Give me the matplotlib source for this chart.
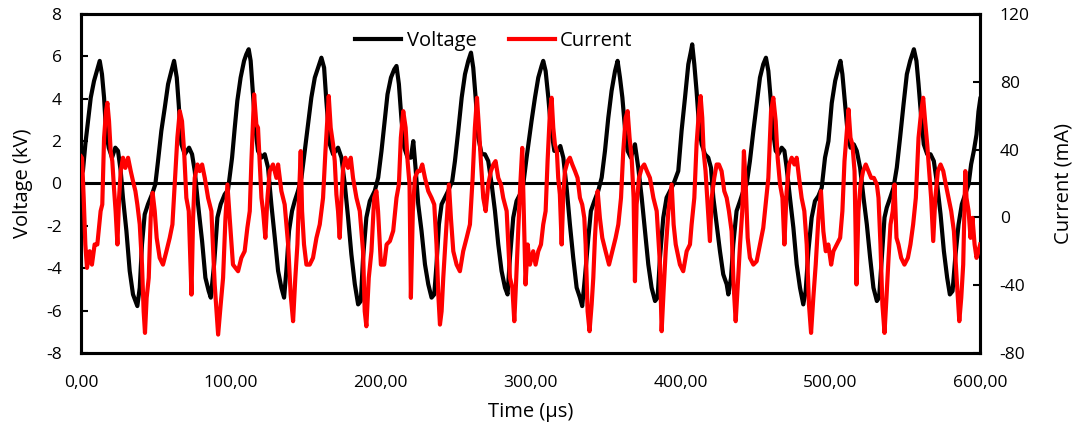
import numpy as np
import matplotlib
matplotlib.use("Agg")
from matplotlib import pyplot as plt

# Discharge waveforms: voltage (kV) and current (mA) vs time (µs)
volt_t = [0, 1.3, 2.9, 4.7, 6.5, 8.7, 10.9, 12.5, 14.0, 15.4, 16.7, 18.5, 20.7, 22.9, 24.7, 26.5,
          28.0, 30.3, 32.5, 34.7, 37.6, 39.2, 40.7, 42.5, 44.7, 47.4, 49.6, 51.4, 53.6, 55.9, 58.1,
          60.3, 62.1, 63.9, 65.2, 67.0, 69.2, 72.1, 74.1, 75.9, 78.1, 80.8, 83.0, 85.2, 86.6, 88.8,
          91.0, 93.2, 95.9, 98.1, 100.8, 102.6, 104.3, 106.5, 108.8, 110.3, 111.9, 113.2, 114.6,
          116.3, 118.1, 120.4, 122.6, 124.8, 127.0, 129.3, 131.5, 133.7, 135.5, 137.0, 138.8, 140.8,
          142.6, 144.8, 147.1, 149.3, 151.5, 153.7, 156.0, 158.2, 160.4, 162.2, 163.7, 166.0, 168.2,
          171.5, 173.8, 176.0, 178.2, 180.4, 182.7, 184.9, 186.7, 188.2, 190.4, 192.7, 196.0, 198.3,
          200.5, 202.8, 204.5, 206.8, 209.0, 210.5, 212.1, 213.9, 215.7, 217.9, 220.1, 221.7, 223.2,
          225.0, 227.2, 229.5, 231.7, 233.9, 235.7, 237.2, 238.8, 240.6, 242.8, 245.0, 247.7, 249.5,
          251.7, 254.0, 256.2, 258.4, 260.2, 261.7, 263.3, 265.1, 267.3, 269.5, 271.7, 274.0, 276.2,
          278.4, 280.6, 282.9, 284.6, 286.2, 288.4, 290.6, 292.9, 295.1, 297.3, 300.6, 302.9, 305.1,
          307.3, 308.4, 310.0, 311.8, 313.5, 315.8, 318.0, 319.8, 321.8, 324.0, 326.2, 328.4, 330.7,
          332.9, 334.4, 336.2, 338.5, 340.2, 342.5, 345.1, 347.4, 349.6, 351.8, 354.0, 356.3, 358.0,
          359.6, 361.2, 362.9, 364.7, 366.9, 369.6, 371.8, 374.1, 376.3, 378.5, 380.7, 383.0, 384.7,
          386.3, 388.5, 390.7, 393.0, 395.2, 398.5, 400.7, 403.0, 405.2, 407.0, 407.8, 409.2, 410.7,
          412.3, 414.1, 416.3, 418.5, 420.3, 421.9, 424.1, 426.3, 428.5, 430.8, 431.9, 433.7, 435.2,
          437.4, 439.7, 441.9, 444.1, 446.3, 448.6, 450.8, 453.0, 455.2, 457.0, 458.6, 459.9, 461.7,
          463.5, 465.3, 467.5, 469.3, 470.8, 473.0, 475.3, 477.5, 479.7, 481.9, 483.5, 485.3, 487.5,
          489.7, 492.0, 494.2, 496.4, 498.7, 500.9, 503.2, 505.4, 506.7, 508.0, 509.8, 511.6, 513.4,
          515.6, 517.6, 519.8, 522.1, 524.3, 526.5, 528.7, 531.0, 532.5, 534.3, 536.1, 537.6, 539.9,
          542.1, 544.3, 546.5, 548.8, 551.0, 553.2, 555.7, 557.4, 558.8, 560.6, 562.3, 564.6, 566.8,
          569.0, 571.2, 573.5, 575.7, 577.9, 579.7, 581.5, 583.3, 585.5, 587.7, 589.9, 592.2, 593.9,
          595.7, 597.5, 598.8, 600.0]
volt_kv = [0.4, 0.6, 1.85, 2.95, 4.05, 4.84, 5.39, 5.79, 5.16, 4.05, 2.48, 1.69, 1.22, 1.69, 1.54, 0.59,
           -0.67, -2.24, -4.13, -5.24, -5.79, -4.92, -2.87, -1.46, -0.98, -0.51, -0.04, 1.06, 2.48, 3.58, 4.69,
           5.31, 5.79, 5.0, 3.74, 1.85, 1.38, 1.69, 1.38, 0.59, -0.98, -2.72, -4.45, -5.08, -5.39, -3.82,
           -1.61, -0.98, -0.51, -0.3, 1.22, 2.64, 3.9, 5.0, 5.79, 6.1, 6.34, 5.79, 4.37,
           2.64, 1.54, 1.22, 1.38, 0.75, -0.98, -2.56, -4.13, -4.92, -5.39, -4.13, -2.24, -1.3,
           -0.83, -0.35, 0.28, 1.54, 2.8, 4.06, 5.0, 5.47, 5.94, 5.47, 3.9, 1.85, 1.38,
           1.69, 1.22, -0.04, -1.61, -3.35, -4.76, -5.71, -5.55, -3.5, -1.61, -0.83, -0.35, 0.28,
           1.54, 3.1, 4.21, 5.0, 5.39, 5.55, 4.69, 2.95, 1.69, 1.22, 1.22, 2.0, 0.75,
           -0.98, -2.24, -3.82, -4.76, -5.39, -5.24, -3.82, -1.93, -0.98, -0.67, -0.35, 0.12, 1.06,
           2.48, 4.06, 5.16, 5.79, 6.18, 5.47, 4.06, 2.17, 1.38, 1.38, 1.06, -0.04, -1.3,
           -2.87, -4.13, -4.92, -5.24, -3.5, -1.61, -0.83, -0.51, -0.04, 1.22, 2.95, 4.06, 5.0,
           5.55, 5.79, 5.31, 4.06, 2.64, 1.54, 1.54, 1.77, 1.22, -0.2, -1.93, -3.5, -4.92,
           -5.39, -5.79, -4.45, -2.56, -1.3, -0.83, -0.35, 0.28, 1.54, 3.1, 4.37, 5.31, 5.79,
           5.0, 4.06, 2.64, 1.54, 1.22, 1.85, 0.75, -0.67, -2.24, -3.82, -4.92, -5.55, -5.39,
           -3.5, -1.61, -0.67, -0.35, -0.04, 0.59, 2.48, 4.06, 5.63, 6.26, 6.57, 5.63, 4.37,
           2.8, 1.85, 1.38, 1.22, 0.75, -0.67, -1.93, -3.19, -4.29, -4.76, -5.24, -4.45, -2.87,
           -1.3, -0.83, -0.35, -0.04, 1.06, 2.48, 3.74, 5.0, 5.63, 5.94, 5.31, 4.21, 2.48,
           1.54, 1.38, 1.69, 1.54, 0.75, -0.67, -2.09, -3.82, -4.92, -5.71, -5.08, -3.19, -1.61,
           -0.83, -0.59, -0.2, 1.22, 2.0, 3.8, 4.85, 5.47, 5.79, 5.16, 3.74, 2.32, 1.69,
           1.85, 1.54, 0.75, -0.67, -1.93, -3.5, -4.92, -5.55, -5.39, -3.5, -1.61, -1.14, -0.67,
           -0.2, 0.75, 2.17, 3.74, 5.16, 5.79, 6.34, 5.79, 4.69, 3.1, 1.85, 1.38, 1.38,
           1.06, -0.04, -1.46, -3.19, -4.45, -5.24, -5.08, -3.5, -1.93, -0.98, -0.51, -0.04, 0.91,
           1.54, 2.32, 3.4, 4.0]

curr_t = [0, 0.7, 1.8, 2.9, 4.0, 5.8, 7.3, 9.1, 10.9, 12.0, 13.1, 14.2, 15.4, 16.7, 17.6, 18.7, 19.8,
          20.9, 22.0, 23.1, 24.3, 25.4, 26.5, 28.0, 29.6, 31.4, 33.2, 34.7, 36.3, 37.6, 39.2, 40.7,
          41.8, 42.7, 43.8, 45.2, 46.5, 47.8, 49.2, 50.5, 52.5, 54.7, 57.0, 59.2, 61.0, 62.5, 64.3,
          65.9, 67.4, 68.8, 70.3, 71.9, 73.7, 74.8, 75.9, 77.7, 79.2, 80.8, 82.6, 84.8, 87.0, 89.2,
          91.5, 93.2, 94.8, 96.4, 97.7, 99.2, 101.4, 104.8, 107.0, 109.2, 111.0, 112.6, 113.7, 115.5,
          117.0, 118.1, 119.2, 120.4, 121.5, 123.0, 124.4, 125.9, 128.1, 130.4, 131.5, 133.7, 135.9,
          138.2, 139.9, 141.5, 143.0, 144.4, 145.5, 146.6, 147.5, 148.8, 150.4, 152.6, 154.8, 157.1,
          159.3, 161.5, 163.1, 165.3, 166.6, 168.2, 169.3, 170.4, 171.5, 172.6, 173.8, 174.9, 176.4,
          178.2, 180.0, 181.5, 183.8, 186.0, 188.2, 189.3, 190.4, 192.0, 193.8, 195.6, 197.1, 198.2,
          200.1, 202.3, 203.9, 206.1, 208.3, 210.5, 212.1, 213.4, 215.0, 216.6, 217.9, 219.2, 220.1,
          221.4, 222.8, 224.6, 226.1, 227.7, 229.5, 231.7, 233.9, 235.7, 237.2, 238.4, 239.5, 240.6,
          241.7, 242.8, 243.9, 245.5, 246.8, 248.4, 250.6, 252.8, 255.0, 257.3, 259.5, 261.3, 262.8,
          264.2, 265.5, 266.8, 268.4, 270.0, 271.7, 273.5, 275.1, 276.6, 278.4, 280.2, 281.7, 284.0,
          286.2, 287.8, 289.1, 290.4, 291.8, 293.1, 294.4, 295.5, 296.6, 298.0, 299.5, 301.7, 303.3,
          305.1, 306.9, 308.4, 310.0, 311.3, 312.9, 314.0, 315.1, 316.2, 317.5, 318.4, 319.5, 320.7,
          321.8, 322.9, 324.7, 326.2, 327.8, 329.6, 331.3, 332.9, 334.4, 335.8, 336.7, 338.0, 339.3,
          340.7, 341.8, 342.9, 344.7, 346.2, 347.8, 350.0, 352.3, 354.5, 356.7, 358.5, 360.3, 361.8,
          363.4, 364.7, 366.0, 367.4, 368.7, 369.6, 370.7, 372.3, 374.1, 375.8, 377.6, 379.6, 381.9,
          384.1, 386.3, 387.4, 388.7, 390.1, 391.9, 394.1, 395.4, 396.8, 399.6, 401.8, 404.1, 406.3,
          407.4, 409.2, 410.7, 412.3, 413.4, 414.5, 415.4, 416.7, 418.1, 419.6, 420.8, 422.5, 424.1,
          425.6, 427.4, 429.2, 430.8, 432.3, 434.1, 435.4, 436.8, 438.1, 439.7, 441.2, 442.3, 443.5,
          444.8, 446.3, 448.6, 450.8, 453.0, 455.2, 456.8, 458.6, 460.4, 461.9, 463.5, 464.8, 466.4,
          468.0, 469.3, 470.8, 472.4, 474.2, 476.0, 477.5, 479.1, 480.8, 482.6, 484.2, 485.7, 487.1,
          488.6, 490.2, 492.0, 493.7, 495.3, 496.9, 498.6, 500.5, 502.0, 504.3, 506.5, 508.0, 509.4,
          511.0, 512.1, 513.4, 514.7, 516.1, 517.4, 518.7, 520.1, 521.8, 523.6, 525.4, 527.2, 529.0,
          531.0, 532.1, 533.4, 534.7, 536.1, 537.4, 538.8, 540.1, 541.6, 542.8, 544.1, 545.4, 547.2,
          549.4, 551.7, 553.4, 555.2, 557.0, 558.8, 560.6, 561.9, 563.2, 564.6, 565.9, 567.2, 568.6,
          570.0, 571.7, 573.5, 575.3, 577.0, 578.8, 580.6, 582.4, 584.2, 586.0, 587.3, 588.6, 590.0,
          590.8, 592.2, 593.5, 594.8, 596.2, 597.5, 598.8, 599.9]
curr_ma = [36, 35, 11.5, -16, -29.8, -20, -27.9, -16, -16, -6.2, 3.7, 7.6, 47, 62.7, 67.6, 56.8, 39,
           33.2, 17.4, 3.7, -16, 11.5, 27.3, 35.2, 29.2, 35.2, 27.3, 21.4, 15.5, 7.6, -4.2, -27.9,
           -55.4, -68.2, -47.5, -35.7, -0.3, 14.5, 3.7, -12.1, -23.9, -27.9, -20, -12.1, -4.2, 19.4, 47,
           62.7, 56.8, 39, 11.5, 3.7, -45.6, -0.3, 23.3, 31.2, 27.3, 31.2, 23.3, 11.5, 3.7, -39.6,
           -69.2, -51.5, -35.7, -0.3, 19.4, -0.3, -27.9, -31.8, -23.9, -20, -6.2, 3.7, 33.2, 72.6,
           54.8, 52.9, 33.2, 11.5, 3.7, -12.1, 11.5, 27.3, 31.2, 23.3, 31.2, 15.5, 7.6,
           -16, -45.6, -61.3, -35.7, -16, 13.5, 39.1, 3.7, -16, -27.9, -27.9, -23.9, -12.1,
           -4.2, 11.5, 39.1, 71.6, 52.9, 43, 33.2, 13.5, 3.7, -12.1, 11.5, 29.2, 35.2,
           29.2, 35.2, 23.3, 11.5, 3.7, -20, -55.4, -64.3, -35.7, -20, 11.5, 15.5, 3.7,
           -27.9, -27.9, -16, -14, -8, 11.5, 19.4, 47, 62.7, 52.9, 33.2, 19.4, -47.5,
           3.7, 23.3, 27.3, 27.3, 31.2, 23.3, 15.5, 11.5, 7.6, -16, -45.6, -63.3, -55.4,
           -35.7, -20, -4.2, 19.4, -0.3, -20, -27.9, -31.8, -20, -12.1, -4.2, 23.3, 52.9,
           70.6, 52.9, 33.2, 11.5, 3.7, 19.4, 27.3, 31.2, 33.2, 23.3, 19.4, 11.5, 3.7,
           -35.7, -41.6, -61.3, -35.7, -6.2, 19.4, 41, -0.3, -39.6, -16, -27.9, -20, -27.9,
           -20, -16, -4.2, 3.7, 33.2, 62.7, 70.6, 52.9, 43, 39.1, 23.3, 13.5, -16,
           13.5, 27.3, 33.2, 35.2, 31.2, 27.3, 23.3, 11.5, 7.6, -0.3, -16, -55.4, -67.2,
           -51.5, -35.7, -12.1, 15.5, -0.3, -12.1, -20, -27.9, -20, -12.1, -4.2, 11.5, 39.1,
           58.8, 62.7, 47, 35.2, 11.5, -37.7, 7.6, 23.3, 29.2, 31.2, 27.3, 23.3, 11.5,
           3.7, -27.9, -67.2, -43.6, -20, 3.7, 19.4, -4.2, -16, -27.9, -31.8, -20, -16,
           -4.2, 11.5, 43, 62.7, 71.6, 58.8, 39.1, 27.3, 7.6, -14, 11.5, 23.3, 31.2,
           31.2, 27.3, 15.5, 11.5, 3.7, -8.2, -39.6, -61.3, -41.6, -16, 3.7, 39.1, 19.4,
           -12.1, -23.9, -27.9, -25.9, -16, -6.2, 7.6, 23.3, 62.7, 70.6, 56.8, 35.2, 19.4,
           11.5, -16, 15.5, 31.2, 35.2, 31.2, 35.2, 23.3, 11.5, 3.7, -16, -51.5, -68.2,
           -47.5, -27.9, -0.3, 15.5, -8.2, -20, -16, -27.9, -20, -16, -12.1, 3.7, 33.2,
           50.9, 63.7, 47, 43, 27.3, -39.6, 3.7, 19.4, 27.3, 31.2, 27.3, 23.3, 23.3,
           19.4, 11.5, -16, -51.5, -68.2, -47.5, -23.9, -4.2, 3.7, 19.4, -12.1, -16, -23.9,
           -27.9, -23.9, -16, -4.2, 11.5, 47, 62.7, 70.6, 56.8, 43, 27.3, 11.5, -14,
           11.5, 27.3, 31.2, 27.3, 19.4, 11.5, 3.7, -8.2, -35.7, -61.3, -47.5, -27.9, 27.3,
           11.5, 3.7, -12.1, -0.3, -16, -23.9, -20, -16]

x_ticks = [0, 100, 200, 300, 400, 500, 600]
x_tick_labels = ["0,00", "100,00", "200,00", "300,00", "400,00", "500,00", "600,00"]
v_ticks = [-8, -6, -4, -2, 0, 2, 4, 6, 8]
i_ticks = [-80, -40, 0, 40, 80, 120]

plt.rcParams["font.family"] = ["Open Sans", "DejaVu Sans"]
plt.rcParams["font.size"] = 12.5
plt.rcParams["axes.unicode_minus"] = False

fig = plt.figure(figsize=(10.77, 4.4), dpi=100)
ax = fig.add_axes([0.0752, 0.198, 0.835, 0.770])
ax2 = ax.twinx()

line_v, = ax.plot(volt_t, volt_kv, color="black", lw=3.0, label="Voltage", zorder=3)
line_i, = ax2.plot(curr_t, curr_ma, color="#ff0000", lw=3.0, label="Current", zorder=3)
ax.axhline(0, color="black", lw=2.2, zorder=2)

ax.set_xlim(0, 600)
ax.set_ylim(-8, 8)
ax2.set_ylim(-80, 120)

ax.set_xticks(x_ticks)
ax.set_xticklabels(x_tick_labels)
ax.set_yticks(v_ticks)
ax2.set_yticks(i_ticks)

ax.tick_params(axis="x", length=0, pad=16)
ax.tick_params(axis="y", direction="in", length=5, width=1.5, pad=14)
ax2.tick_params(axis="y", direction="in", length=5, width=1.5, pad=14)

for a in (ax, ax2):
    for sp in a.spines.values():
        sp.set_linewidth(2.2)
        sp.set_color("black")

ax.set_xlabel("Time (µs)", fontsize=14.5, labelpad=8)
ax.set_ylabel("Voltage (kV)", fontsize=14.5, labelpad=9)
ax2.set_ylabel("Current (mA)", fontsize=14.5, labelpad=17)

# voltage axis sits below the current axis so the red trace stays in front
ax.set_zorder(ax2.get_zorder() - 1)
ax.patch.set_visible(True)
ax2.patch.set_visible(False)

leg = ax2.legend([line_v, line_i], ["Voltage", "Current"], loc="upper center",
                 bbox_to_anchor=(0.459, 0.985), ncol=2, frameon=False, fontsize=14.5,
                 handlelength=2.3, handletextpad=0.25, columnspacing=1.6, borderaxespad=0.2)

fig.savefig("out.png", dpi=100)
